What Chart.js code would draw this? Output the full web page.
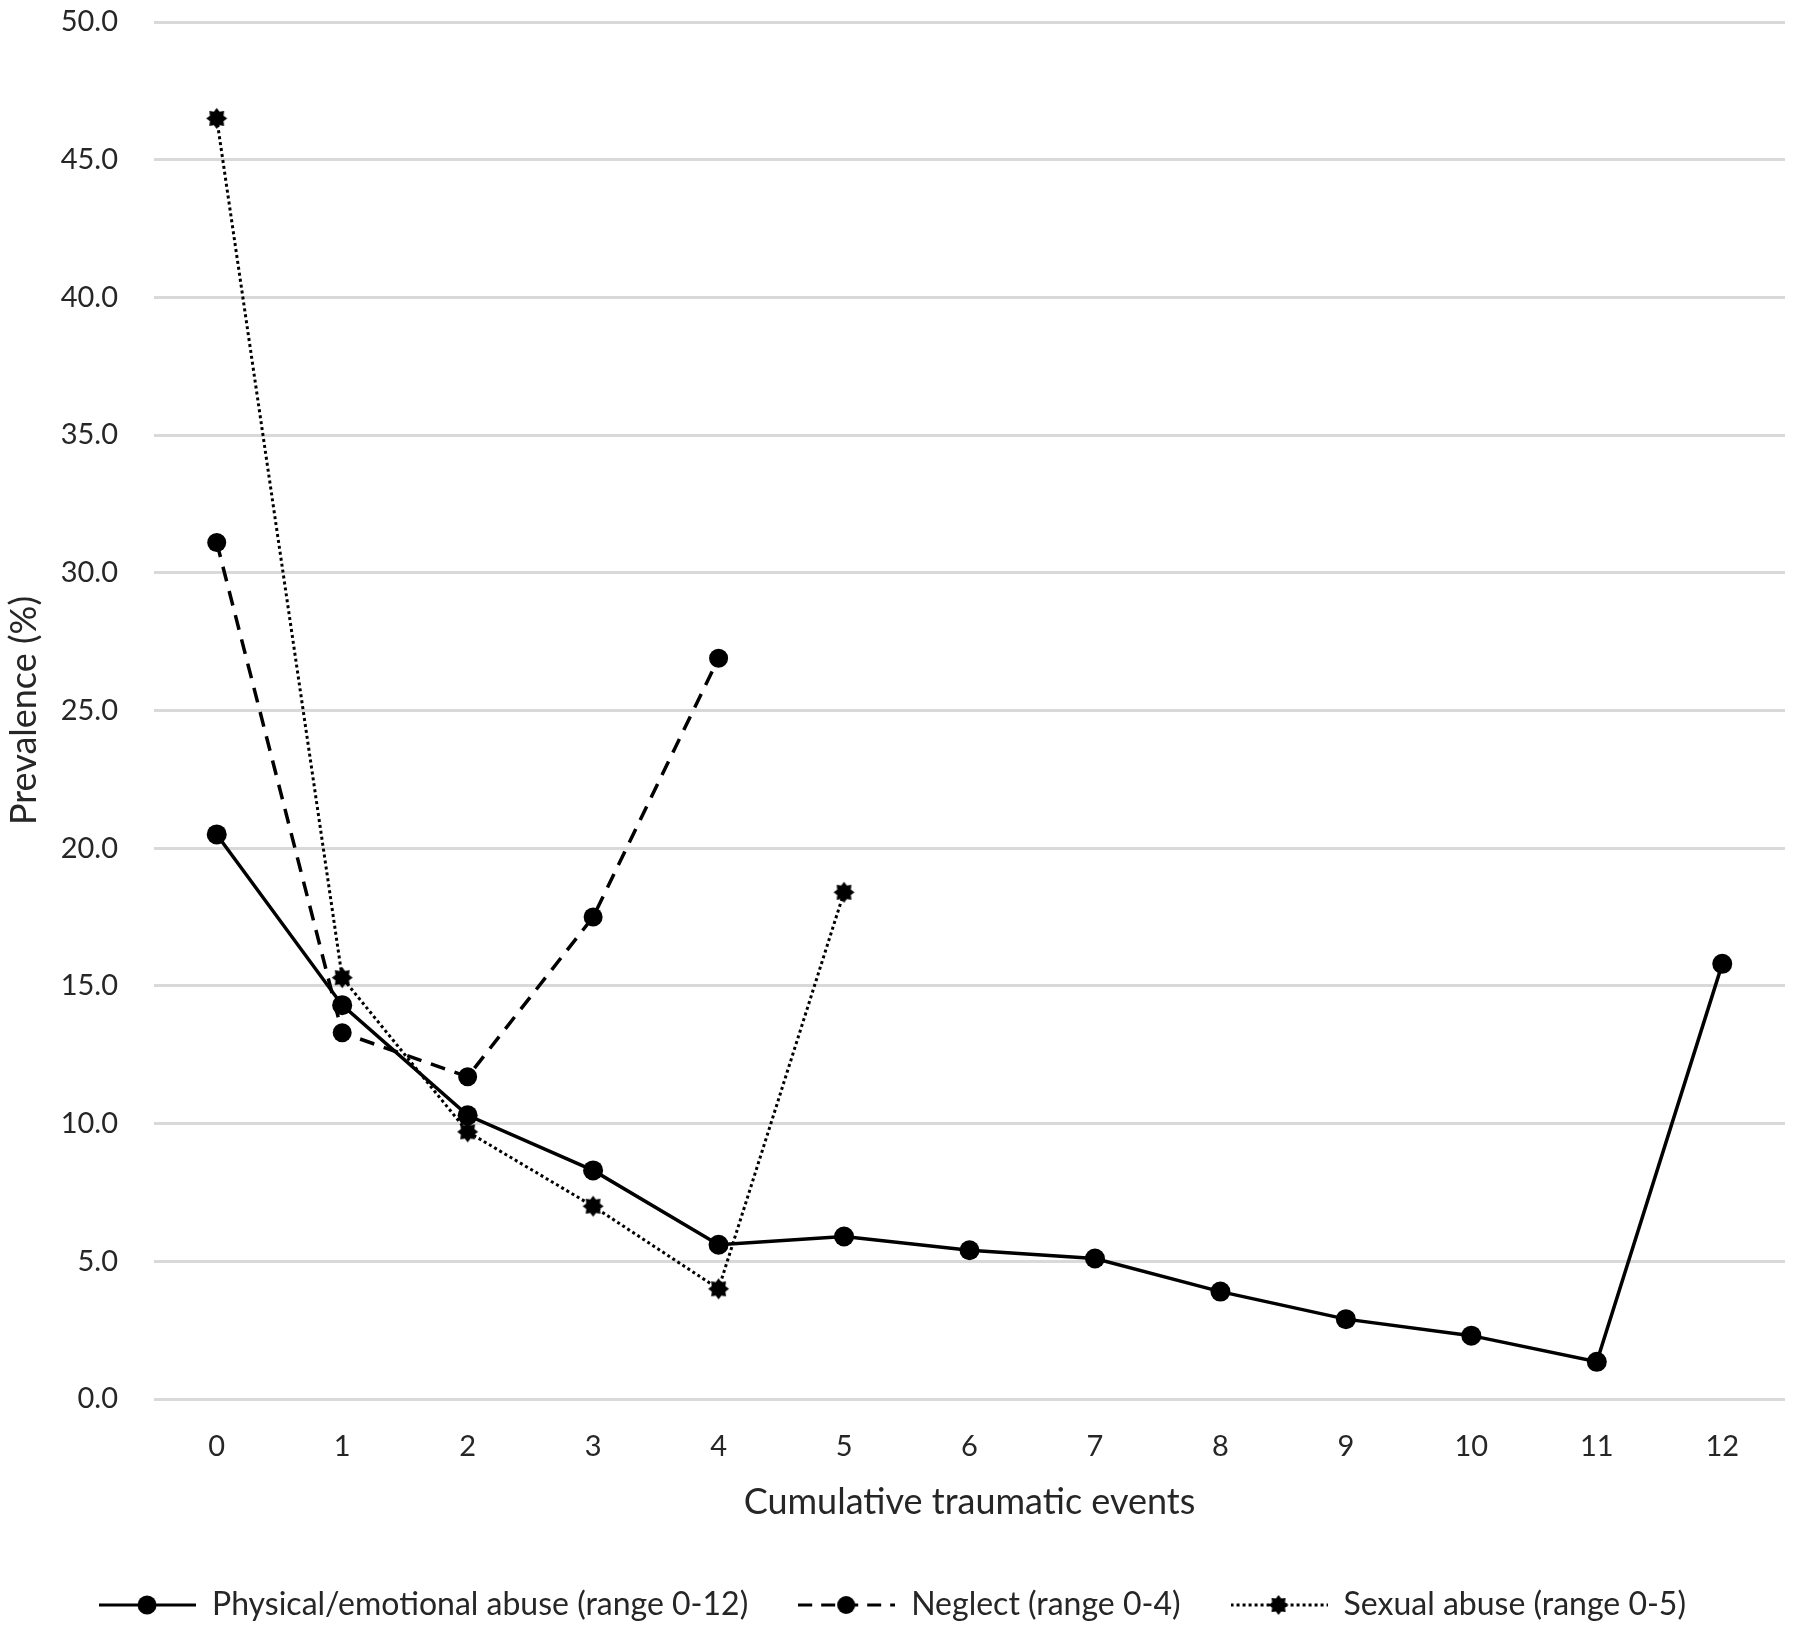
<!DOCTYPE html>
<html>
<head>
<meta charset="utf-8">
<script src="https://cdn.jsdelivr.net/npm/chart.js@4/dist/chart.umd.min.js"></script>
<style>
  html, body { margin: 0; padding: 0; background: #fff; }
  #wrap { width: 1800px; height: 1632px; }
</style>
</head>
<body>
<div id="wrap"><canvas id="chartTrauma"></canvas></div>
<script>
// Cumulative traumatic events vs prevalence

const events = ["0", "1", "2", "3", "4", "5", "6", "7", "8", "9", "10", "11", "12"];
const physicalAbuse = [20.5, 14.3, 10.3, 8.3, 5.6, 5.9, 5.4, 5.1, 3.9, 2.9, 2.3, 1.35, 15.8];
const neglect = [31.1, 13.3, 11.7, 17.5, 26.9];
const sexualAbuse = [46.5, 15.3, 9.7, 7.0, 4.0, 18.4];
const seriesNames = [
    "Physical/emotional abuse (range 0-12)",
    "Neglect (range 0-4)",
    "Sexual abuse (range 0-5)"
];

const fontFamily = "Lato, 'Open Sans', sans-serif";
const textColor = "#262626";

// star shaped marker used for the sexual abuse series
makeStar = (r) => {
    const c = document.createElement("canvas");
    c.width = c.height = r * 2 + 2;
    const ctx = c.getContext("2d");
    const cx = c.width / 2;
    ctx.beginPath();
    for (let i = 0; i < 16; i++) {
        const rad = i % 2 === 0 ? r : r * 0.7;
        const a = (Math.PI / 8) * i - Math.PI / 2;
        ctx.lineTo(cx + rad * Math.cos(a), cx + rad * Math.sin(a));
    }
    ctx.closePath();
    ctx.fillStyle = "#000";
    ctx.fill();
    return c;
};

// little legend sample: line in the series style with its marker on top
makeLegendIcon = (dash, marker) => {
    const c = document.createElement("canvas");
    c.width = 97;
    c.height = 26;
    const ctx = c.getContext("2d");
    ctx.strokeStyle = "#000";
    ctx.lineWidth = 3;
    ctx.setLineDash(dash);
    ctx.beginPath();
    ctx.moveTo(0, 13);
    ctx.lineTo(97, 13);
    ctx.stroke();
    if (marker === "star") {
        ctx.drawImage(makeStar(10), 48 - 11, 13 - 11);
    } else {
        ctx.fillStyle = "#000";
        ctx.beginPath();
        ctx.arc(48, 13, marker, 0, Math.PI * 2);
        ctx.fill();
    }
    return c;
};

const starMarker = makeStar(10.5);
const legendIcons = [
    makeLegendIcon([], 9.5),
    makeLegendIcon([14, 9], 9),
    makeLegendIcon([3, 3], "star")
];

setupChart = () => {
    const config = {
        type: "line",
        data: {
            labels: events,
            datasets: [
                {
                    label: seriesNames[0],
                    data: physicalAbuse,
                    borderColor: "#000",
                    backgroundColor: "#000",
                    borderWidth: 3.5,
                    pointStyle: "circle",
                    pointRadius: 10,
                    pointBorderWidth: 0,
                    tension: 0
                },
                {
                    label: seriesNames[1],
                    data: neglect,
                    borderColor: "#000",
                    backgroundColor: "#000",
                    borderWidth: 3.5,
                    borderDash: [15, 10],
                    pointStyle: "circle",
                    pointRadius: 9.5,
                    pointBorderWidth: 0,
                    tension: 0
                },
                {
                    label: seriesNames[2],
                    data: sexualAbuse,
                    borderColor: "#000",
                    backgroundColor: "#000",
                    borderWidth: 3,
                    borderDash: [3, 3],
                    pointStyle: starMarker,
                    tension: 0
                }
            ]
        },
        options: {
            responsive: false,
            animation: false,
            layout: {
                padding: { top: 22, right: 15, bottom: 1, left: 0 }
            },
            plugins: {
                tooltip: { enabled: false },
                legend: {
                    position: "bottom",
                    labels: {
                        usePointStyle: true,
                        pointStyleWidth: 97,
                        padding: 50,
                        color: textColor,
                        font: { family: fontFamily, size: 32 },
                        generateLabels: (chart) => {
                            const items = Chart.defaults.plugins.legend.labels.generateLabels(chart);
                            items.forEach((item, i) => { item.pointStyle = legendIcons[i]; });
                            return items;
                        }
                    }
                }
            },
            scales: {
                x: {
                    offset: true,
                    grid: { display: false, drawTicks: false },
                    border: { display: false },
                    ticks: {
                        padding: 30,
                        color: textColor,
                        font: { family: fontFamily, size: 29 }
                    },
                    title: {
                        display: true,
                        text: "Cumulative traumatic events",
                        color: textColor,
                        font: { family: fontFamily, size: 36 },
                        padding: { top: -13, bottom: 15 }
                    }
                },
                y: {
                    min: 0,
                    max: 50,
                    afterFit: (scale) => { scale.width = 154; },
                    // invisible tick marks give the gap between labels and plot
                    grid: { color: "#d9d9d9", lineWidth: 3, drawTicks: true, tickLength: 36, tickColor: "rgba(0,0,0,0)" },
                    border: { display: false },
                    ticks: {
                        stepSize: 5,
                        padding: 0,
                        color: textColor,
                        font: { family: fontFamily, size: 29 },
                        callback: (v) => v.toFixed(1)
                    },
                    title: {
                        display: true,
                        text: "Prevalence (%)",
                        color: textColor,
                        font: { family: fontFamily, size: 36 },
                        padding: { top: 3, bottom: 0 }
                    }
                }
            }
        }
    };

    const canvas = document.getElementById("chartTrauma");
    canvas.width = 1800;
    canvas.height = 1632;
    new Chart(canvas, config);
};

setupChart();
</script>
</body>
</html>
